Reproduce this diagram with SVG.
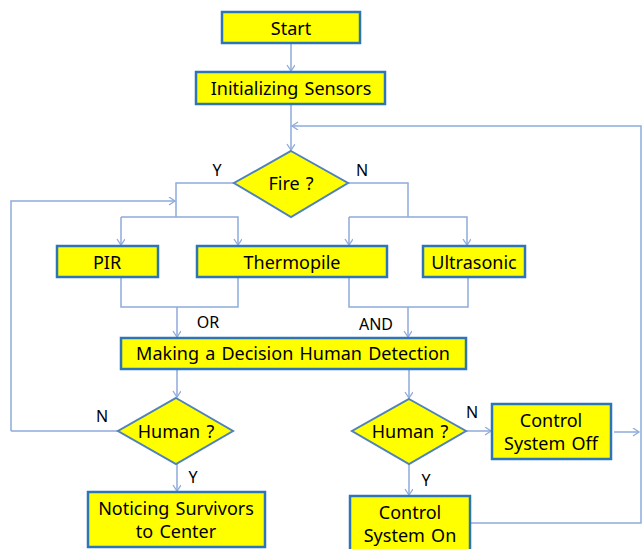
<svg xmlns="http://www.w3.org/2000/svg" width="644" height="549" viewBox="0 0 644 549">
<style>
.box{fill:#FFFF00;stroke:#2E75B6;stroke-width:2.5}
.dia{fill:#FFFF00;stroke:#4F81BD;stroke-width:2}
.t{font-family:"Noto Sans","Noto Sans CJK KR",sans-serif;font-size:18px;word-spacing:1.5px;fill:#000;text-anchor:middle;dominant-baseline:central}
.l{font-family:"Noto Sans","Noto Sans CJK KR",sans-serif;font-size:16px;fill:#000;text-anchor:middle;dominant-baseline:central}
.c{fill:none;stroke:#8FAADC;stroke-width:1.5}
.a{marker-end:url(#ah)}
</style>
<defs>
<marker id="ah" markerUnits="userSpaceOnUse" markerWidth="10" markerHeight="10" refX="7" refY="4" orient="auto">
<path d="M1,0 L7,4 L1,8" fill="none" stroke="#8FAADC" stroke-width="1.3"/>
</marker>
</defs>
<g id="connectors">
<path class="c a" d="M291,43 V71"/>
<path class="c a" d="M291,104 V150"/>
<path class="c a" d="M641,431 V126 H292"/>
<path class="c" d="M234,183 H176 V217"/>
<path class="c a" d="M121,217 V245"/>
<path class="c a" d="M121,217 H238 V245"/>
<path class="c a" d="M11,431 V201 H175"/>
<path class="c" d="M348,183 H408 V217"/>
<path class="c a" d="M349,217 V245"/>
<path class="c a" d="M349,217 H467 V245"/>
<path class="c" d="M121,278 V307 H238 V278"/>
<path class="c a" d="M177,307 V337"/>
<path class="c" d="M349,278 V307 H468 V278"/>
<path class="c a" d="M408,307 V337"/>
<path class="c a" d="M177,369 V397"/>
<path class="c a" d="M409,369 V398"/>
<path class="c" d="M118,431 H11"/>
<path class="c a" d="M177,463 V491"/>
<path class="c a" d="M466,431 H491"/>
<path class="c a" d="M409,464 V495"/>
<path class="c a" d="M614,432 H639"/>
<path class="c" d="M470,523 H641 V431"/>
</g>
<g id="labels">
<text class="l" x="217" y="170">Y</text>
<text class="l" x="362" y="170">N</text>
<text class="l" x="208" y="322">OR</text>
<text class="l" x="376" y="324">AND</text>
<text class="l" x="102" y="416">N</text>
<text class="l" x="193" y="477">Y</text>
<text class="l" x="472" y="412">N</text>
<text class="l" x="426" y="480">Y</text>
</g>
<g id="start"><rect class="box" x="222" y="12" width="138" height="31"/><text class="t" x="291" y="28">Start</text></g>
<g id="init"><rect class="box" x="196" y="72" width="189" height="32"/><text class="t" x="291" y="88">Initializing Sensors</text></g>
<g id="fire"><polygon class="dia" points="291,151 348,183 291,217 234,183"/><text class="t" x="291" y="183">Fire ?</text></g>
<g id="pir"><rect class="box" x="57" y="246" width="101" height="31"/><text class="t" x="107" y="262">PIR</text></g>
<g id="thermopile"><rect class="box" x="197" y="246" width="190" height="31"/><text class="t" x="292" y="262">Thermopile</text></g>
<g id="ultrasonic"><rect class="box" x="423" y="246" width="102" height="31"/><text class="t" x="474" y="262">Ultrasonic</text></g>
<g id="decision"><rect class="box" x="121" y="338" width="345" height="31"/><text class="t" x="293" y="353">Making a Decision Human Detection</text></g>
<g id="human1"><polygon class="dia" points="176,398 233,431 176,464 118,431"/><text class="t" x="176" y="431">Human ?</text></g>
<g id="human2"><polygon class="dia" points="409,399 466,431 409,464 352,431"/><text class="t" x="410" y="431">Human ?</text></g>
<g id="noticing"><rect class="box" x="88" y="492" width="177" height="55"/><text class="t" x="176" y="508">Noticing Survivors</text><text class="t" x="176" y="531">to Center</text></g>
<g id="ctrloff"><rect class="box" x="492" y="404" width="119" height="55"/><text class="t" x="551" y="420">Control</text><text class="t" x="551" y="443">System Off</text></g>
<g id="ctrlon"><rect class="box" x="350" y="496" width="120" height="60"/><text class="t" x="410" y="512">Control</text><text class="t" x="410" y="535">System On</text></g>
</svg>
